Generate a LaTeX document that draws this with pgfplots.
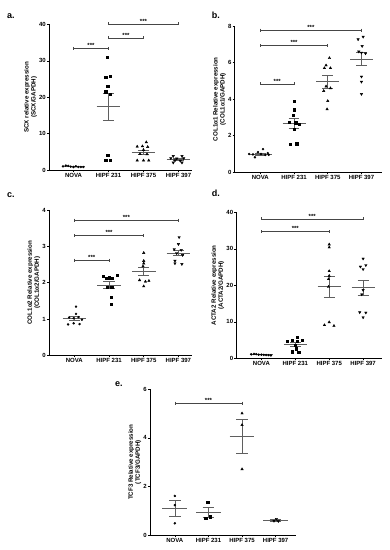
\documentclass[border=0pt]{standalone}
\usepackage{fontspec}
\setmainfont{Liberation Sans}
\usepackage{pgfplots}
\pgfplotsset{compat=1.18}
\definecolor{semgray}{RGB}{95,95,95}
\definecolor{brgray}{RGB}{70,70,70}
\pgfplotsset{
  prism/.style={
    scale only axis,
    axis x line*=bottom, axis y line*=left,
    axis line style={black, line width=0.8pt, -},
    every outer x axis line/.append style={-},
    every outer y axis line/.append style={-},
    tick style={black, line width=0.6pt},
    tick align=outside, major tick length=2pt,
    xtick={0,1,2,3}, xticklabels={NOVA,HIPF 231,HIPF 375,HIPF 397},
    ymin=0, clip=false, unbounded coords=jump,
    tick label style={font=\fontsize{6}{7}\selectfont\bfseries},
    /pgf/number format/assume math mode=true,
    xticklabel style={inner sep=1pt},
    yticklabel style={inner sep=1pt},
    ylabel style={font=\fontsize{6.2}{7}\selectfont\bfseries, align=center, inner sep=1pt},
  },
  mk0/.style={only marks, mark=*, mark size=1.0pt, black},
  mk1/.style={only marks, mark=square*, mark size=1.2pt, black},
  mk2/.style={only marks, mark=triangle*, mark size=1.4pt, black},
  mk3/.style={only marks, mark=triangle*, mark size=1.4pt, black, mark options={rotate=180}},
  msem/.style={semgray, line width=0.6pt, no marks},
  brk/.style={brgray, line width=0.6pt, mark=|, mark size=1.5pt, mark options={brgray, line width=0.6pt}},
}
\tikzset{stars/.style={anchor=south, inner sep=0.6pt, font=\fontsize{6}{6}\selectfont\bfseries}}
\begin{document}
\begin{tikzpicture}
\useasboundingbox (0,0) rectangle (390pt,550pt);
% ---------------- a ----------------
\begin{axis}[prism, at={(49pt,379.7pt)}, anchor=south west, width=143.5pt, height=146pt,
  xmin=-0.7, xmax=3.4, ymax=40, ytick={0,10,20,30,40},
  ylabel={SCX relative expression\\(SCX/GAPDH)}]
\addplot[mk0] table {
x y
-0.30 1.1
-0.22 1.3
-0.15 1.2
-0.08 1.0
0.00 0.9
0.07 1.1
0.14 0.9
0.21 0.9
0.28 0.9
};
\addplot[mk1] table {
x y
0.97 31.0
0.92 25.5
1.05 25.7
0.98 23.1
0.92 21.5
1.05 20.8
0.98 4.2
0.92 2.8
1.05 2.8
};
\addplot[mk2] table {
x y
2.08 7.7
1.82 6.5
1.97 6.6
2.12 6.4
2.00 5.6
1.90 4.5
2.10 4.4
1.82 2.7
2.00 2.7
2.15 2.7
};
\addplot[mk3] table {
x y
2.85 3.9
3.10 3.9
2.78 3.3
2.95 3.2
3.15 3.3
2.90 2.7
3.05 2.6
2.85 2.1
3.10 2.1
};
\addplot[msem] coordinates {
(-0.34,1.03) (0.34,1.03) (0,nan) (0,0.98) (0,1.08) (0,nan) (-0.16,1.08) (0.16,1.08) (0,nan) (-0.16,0.98) (0.16,0.98) (0,nan)
(0.66,17.5) (1.34,17.5) (1,nan) (1,13.8) (1,21.2) (1,nan) (0.84,21.2) (1.16,21.2) (1,nan) (0.84,13.8) (1.16,13.8) (1,nan)
(1.66,5.0) (2.34,5.0) (2,nan) (2,4.4) (2,5.6) (2,nan) (1.84,5.6) (2.16,5.6) (2,nan) (1.84,4.4) (2.16,4.4) (2,nan)
(2.66,3.0) (3.34,3.0) (3,nan) (3,2.77) (3,3.23) (3,nan) (2.84,3.23) (3.16,3.23) (3,nan) (2.84,2.77) (3.16,2.77)
};
\addplot[brk] coordinates {(0,33.4) (1,33.4)};
\addplot[brk] coordinates {(1,36.3) (2,36.3)};
\addplot[brk] coordinates {(1,40.1) (3,40.1)};
\node[stars] at (axis cs:0.5,33.4) {***};
\node[stars] at (axis cs:1.5,36.3) {***};
\node[stars] at (axis cs:2.0,40.1) {***};
\end{axis}
% ---------------- b ----------------
\begin{axis}[prism, at={(234.7pt,377.7pt)}, anchor=south west, width=147pt, height=146.3pt,
  xmin=-0.76, xmax=3.6, ymax=8, ytick={0,2,4,6,8},
  ylabel={COL1α1 Relative expression\\(COL1α1/GAPDH)}]
\addplot[mk0] table {
x y
-0.33 1.00
-0.22 0.98
-0.16 0.82
-0.07 1.10
0.02 1.00
0.08 1.27
0.15 0.95
0.22 1.05
0.25 0.96
};
\addplot[mk1] table {
x y
1.00 3.90
1.00 3.42
0.98 3.13
0.85 2.75
1.05 2.72
1.15 2.62
1.00 2.37
0.88 1.53
1.08 1.57
};
\addplot[mk2] table {
x y
2.05 6.25
1.95 5.85
1.90 5.70
2.08 5.70
1.95 4.70
2.08 4.60
1.88 4.45
2.00 3.90
1.98 3.45
};
\addplot[mk3] table {
x y
2.90 7.27
3.05 7.41
3.02 6.90
2.92 6.60
3.00 6.54
3.12 6.50
3.00 5.23
3.00 4.95
3.00 4.28
};
\addplot[msem] coordinates {
(-0.34,1.0) (0.34,1.0) (0,nan) (0,0.95) (0,1.05) (0,nan) (-0.16,1.05) (0.16,1.05) (0,nan) (-0.16,0.95) (0.16,0.95) (0,nan)
(0.66,2.67) (1.34,2.67) (1,nan) (1,2.41) (1,2.93) (1,nan) (0.84,2.93) (1.16,2.93) (1,nan) (0.84,2.41) (1.16,2.41) (1,nan)
(1.66,4.96) (2.34,4.96) (2,nan) (2,4.62) (2,5.30) (2,nan) (1.84,5.30) (2.16,5.30) (2,nan) (1.84,4.62) (2.16,4.62) (2,nan)
(2.66,6.19) (3.34,6.19) (3,nan) (3,5.83) (3,6.55) (3,nan) (2.84,6.55) (3.16,6.55) (3,nan) (2.84,5.83) (3.16,5.83)
};
\addplot[brk] coordinates {(0,4.83) (1,4.83)};
\addplot[brk] coordinates {(0,6.92) (2,6.92)};
\addplot[brk] coordinates {(0,7.78) (3,7.78)};
\node[stars] at (axis cs:0.5,4.83) {***};
\node[stars] at (axis cs:1.0,6.92) {***};
\node[stars] at (axis cs:1.5,7.78) {***};
\end{axis}
% ---------------- c ----------------
\begin{axis}[prism, at={(49pt,194.7pt)}, anchor=south west, width=143.3pt, height=145.3pt,
  xmin=-0.73, xmax=3.4, ymax=4, ytick={0,1,2,3,4},
  ylabel={COL1α2 Relative expression\\(COL1α2/GAPDH)}]
\addplot[mk0] table {
x y
0.05 1.34
0.05 1.14
-0.15 1.04
-0.02 1.02
0.12 1.05
0.22 0.98
-0.18 0.85
-0.02 0.88
0.15 0.86
};
\addplot[mk1] table {
x y
0.83 2.17
0.92 2.12
1.00 2.14
1.10 2.12
1.24 2.20
0.95 1.87
1.08 1.87
1.07 1.60
1.07 1.41
};
\addplot[mk2] table {
x y
2.00 2.82
2.00 2.60
2.00 2.53
1.98 2.45
1.88 2.07
2.05 2.03
2.15 2.05
2.00 1.90
};
\addplot[mk3] table {
x y
3.02 3.25
3.00 3.06
2.88 2.92
3.08 2.90
2.95 2.81
3.12 2.76
2.90 2.60
2.90 2.53
3.10 2.51
};
\addplot[msem] coordinates {
(-0.34,1.02) (0.34,1.02) (0,nan) (0,0.97) (0,1.07) (0,nan) (-0.16,1.07) (0.16,1.07) (0,nan) (-0.16,0.97) (0.16,0.97) (0,nan)
(0.66,1.94) (1.34,1.94) (1,nan) (1,1.85) (1,2.03) (1,nan) (0.84,2.03) (1.16,2.03) (1,nan) (0.84,1.85) (1.16,1.85) (1,nan)
(1.66,2.31) (2.34,2.31) (2,nan) (2,2.19) (2,2.43) (2,nan) (1.84,2.43) (2.16,2.43) (2,nan) (1.84,2.19) (2.16,2.19) (2,nan)
(2.66,2.82) (3.34,2.82) (3,nan) (3,2.74) (3,2.90) (3,nan) (2.84,2.90) (3.16,2.90) (3,nan) (2.84,2.74) (3.16,2.74)
};
\addplot[brk] coordinates {(0,2.62) (1,2.62)};
\addplot[brk] coordinates {(0,3.29) (2,3.29)};
\addplot[brk] coordinates {(0,3.72) (3,3.72)};
\node[stars] at (axis cs:0.5,2.62) {***};
\node[stars] at (axis cs:1.0,3.29) {***};
\node[stars] at (axis cs:1.5,3.72) {***};
\end{axis}
% ---------------- d ----------------
\begin{axis}[prism, at={(236.3pt,191.7pt)}, anchor=south west, width=145.8pt, height=146pt,
  xmin=-0.74, xmax=3.56, ymax=40, ytick={0,10,20,30,40},
  ylabel={ACTA2 Relative expression\\(ACTA2/GAPDH)}]
\addplot[mk0] table {
x y
-0.30 1.1
-0.22 1.2
-0.15 1.15
-0.08 1.0
0.00 1.0
0.07 0.95
0.14 0.9
0.21 0.85
0.28 0.8
};
\addplot[mk1] table {
x y
0.77 4.75
0.90 5.00
1.05 5.70
1.05 4.70
1.20 5.00
1.00 3.60
1.02 2.60
0.90 1.80
1.10 1.70
};
\addplot[mk2] table {
x y
2.00 31.2
2.00 30.4
2.00 23.9
2.00 22.6
1.98 21.7
1.98 19.6
2.00 9.9
1.86 9.1
2.14 8.9
};
\addplot[mk3] table {
x y
3.00 27.3
2.92 25.1
3.08 25.5
3.00 24.4
3.00 18.7
2.96 17.5
2.90 12.6
3.08 12.5
3.00 11.2
};
\addplot[msem] coordinates {
(-0.34,1.0) (0.34,1.0) (0,nan)
(0.66,3.87) (1.34,3.87) (1,nan) (1,3.37) (1,4.37) (1,nan) (0.84,4.37) (1.16,4.37) (1,nan) (0.84,3.37) (1.16,3.37) (1,nan)
(1.66,19.7) (2.34,19.7) (2,nan) (2,16.8) (2,22.6) (2,nan) (1.84,22.6) (2.16,22.6) (2,nan) (1.84,16.8) (2.16,16.8) (2,nan)
(2.66,19.4) (3.34,19.4) (3,nan) (3,17.3) (3,21.5) (3,nan) (2.84,21.5) (3.16,21.5) (3,nan) (2.84,17.3) (3.16,17.3)
};
\addplot[brk] coordinates {(0,34.7) (2,34.7)};
\addplot[brk] coordinates {(0,38.2) (3,38.2)};
\node[stars] at (axis cs:1.0,34.7) {***};
\node[stars] at (axis cs:1.5,38.2) {***};
\end{axis}
% ---------------- e ----------------
\begin{axis}[prism, at={(150pt,15pt)}, anchor=south west, width=145.8pt, height=145.7pt,
  xmin=-0.74, xmax=3.6, ymax=6, ytick={0,2,4,6},
  ylabel={TCF3 Relative expression\\(TCF3/GAPDH)}]
\addplot[mk0] table {
x y
0.00 1.61
0.00 1.23
0.00 0.48
};
\addplot[mk1] table {
x y
0.98 1.35
0.92 0.69
1.06 0.76
};
\addplot[mk2] table {
x y
2.00 5.01
2.00 4.53
2.00 2.71
};
\addplot[mk3] table {
x y
2.95 0.58
3.02 0.66
3.08 0.57
};
\addplot[msem] coordinates {
(-0.37,1.11) (0.37,1.11) (0,nan) (0,0.78) (0,1.44) (0,nan) (-0.17,1.44) (0.17,1.44) (0,nan) (-0.17,0.78) (0.17,0.78) (0,nan)
(0.63,0.93) (1.37,0.93) (1,nan) (1,0.72) (1,1.14) (1,nan) (0.83,1.14) (1.17,1.14) (1,nan) (0.83,0.72) (1.17,0.72) (1,nan)
(1.63,4.08) (2.37,4.08) (2,nan) (2,3.38) (2,4.78) (2,nan) (1.83,4.78) (2.17,4.78) (2,nan) (1.83,3.38) (2.17,3.38) (2,nan)
(2.63,0.60) (3.37,0.60) (3,nan) (3,0.57) (3,0.63) (3,nan) (2.83,0.63) (3.17,0.63) (3,nan) (2.83,0.57) (3.17,0.57)
};
\addplot[brk] coordinates {(0,5.43) (2,5.43)};
\node[stars] at (axis cs:1.0,5.43) {***};
\end{axis}
% panel letters
\node[anchor=base west, inner sep=0pt, font=\fontsize{9}{9}\selectfont\bfseries] at (7pt,531.7pt) {a.};
\node[anchor=base west, inner sep=0pt, font=\fontsize{9}{9}\selectfont\bfseries] at (211.7pt,531.7pt) {b.};
\node[anchor=base west, inner sep=0pt, font=\fontsize{9}{9}\selectfont\bfseries] at (7pt,352pt) {c.};
\node[anchor=base west, inner sep=0pt, font=\fontsize{9}{9}\selectfont\bfseries] at (211.7pt,353pt) {d.};
\node[anchor=base west, inner sep=0pt, font=\fontsize{9}{9}\selectfont\bfseries] at (115pt,163pt) {e.};
\end{tikzpicture}
\end{document}
